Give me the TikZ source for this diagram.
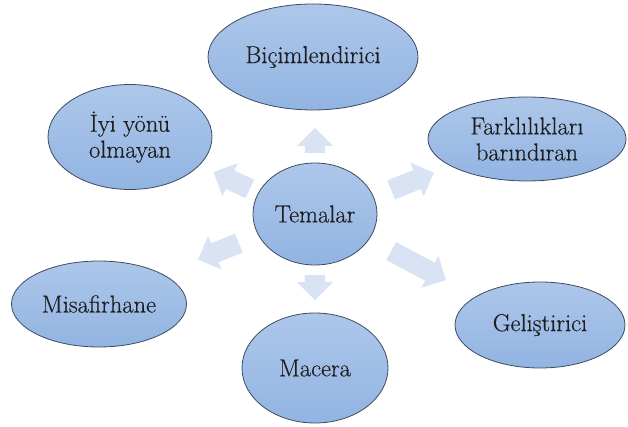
\documentclass[tikz,border=0pt]{standalone}
\usepackage{fontspec}
\newfontfamily\labelfont{Latin Modern Roman}[FakeBold=0.35]
\usetikzlibrary{shapes.geometric,shapes.arrows}

\definecolor{bubbletop}{HTML}{ADC7EA}
\definecolor{bubblebot}{HTML}{92B4E2}
\definecolor{bubbleline}{HTML}{3E4A60}
\definecolor{arrowfill}{HTML}{D9E3F3}
\definecolor{labeltext}{HTML}{1E1E1E}

\tikzset{
  bubble/.style={ellipse, draw=bubbleline, line width=0.8pt,
    top color=bubbletop, bottom color=bubblebot, inner sep=0pt,
    text=labeltext, align=center,
    font=\labelfont\fontsize{24.5}{26}\selectfont},
  blockarrow/.style={single arrow, fill=arrowfill, draw=none,
    inner xsep=0pt, inner ysep=10pt, minimum width=36pt,
    single arrow head extend=8pt, single arrow head indent=0pt,
    anchor=tail}
}

\begin{document}
\begin{tikzpicture}[x=1pt,y=-1pt]
  \useasboundingbox (0,0) rectangle (628,427);

  % central theme and its six attributes
  \node[bubble, minimum width=124pt, minimum height=102pt] (temalar) at (315,214) {Temalar};
  \node[bubble, minimum width=210pt, minimum height=106pt] (bicim) at (313,57) {Biçimlendirici};
  \node[bubble, minimum width=164pt, minimum height=105pt] (iyi) at (130,137) {İyi yönü\\olmayan};
  \node[bubble, minimum width=198pt, minimum height=84pt] (fark) at (527,139) {Farklılıkları\\barındıran};
  \node[bubble, minimum width=175pt, minimum height=86pt] (misafir) at (99,304) {Misafirhane};
  \node[bubble, minimum width=170pt, minimum height=86pt] (gelis) at (540,325) {Geliştirici};
  \node[bubble, minimum width=146pt, minimum height=110pt] (macera) at (315,368) {Macera};

  % block arrows radiating from the centre
  \node[blockarrow, minimum height=25pt, rotate=90]  (aup)   at (315,153) {};
  \node[blockarrow, minimum height=25pt, rotate=-90] (adown) at (315,275) {};
  \node[blockarrow, minimum height=40pt, rotate=155] (aul)   at (250,189) {};
  \node[blockarrow, minimum height=44pt, rotate=202] (all)   at (239,243) {};
  \node[blockarrow, minimum height=46pt, rotate=22]  (aur)   at (391,190) {};
  \node[blockarrow, minimum height=62pt, rotate=-28] (alr)   at (391,251) {};
\end{tikzpicture}
\end{document}
